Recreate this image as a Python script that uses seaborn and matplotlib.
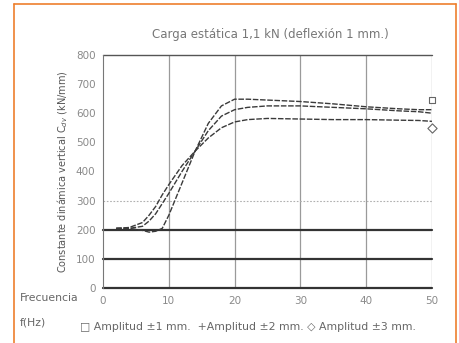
import numpy as np
import pandas as pd
import matplotlib
matplotlib.use("Agg")
import matplotlib.pyplot as plt
import seaborn as sns
from matplotlib.lines import Line2D

# ---- data ----
freq = [2, 4, 6, 7, 8, 9, 10, 12, 14, 16, 18, 20, 22, 25, 30, 35, 40, 45, 48, 50]
amp1 = [205, 205, 198, 192, 195, 205, 250, 360, 470, 565, 625, 648, 648, 645, 640, 632, 622, 615, 612, 612]
amp2 = [205, 205, 212, 230, 255, 290, 325, 400, 470, 540, 590, 612, 620, 625, 625, 620, 615, 608, 605, 600]
amp3 = [205, 208, 225, 250, 280, 320, 355, 420, 470, 515, 550, 570, 578, 582, 580, 578, 578, 576, 575, 572]
series = ["Amplitud ±1 mm.", "Amplitud ±2 mm.", "Amplitud ±3 mm."]
end_square = 645
end_diamond = 550
x_ticks = [0, 10, 20, 30, 40, 50]
y_ticks = [0, 100, 200, 300, 400, 500, 600, 700, 800]

df = pd.DataFrame({
    "f": freq * 3,
    "C": amp1 + amp2 + amp3,
    "serie": [series[0]] * len(freq) + [series[1]] * len(freq) + [series[2]] * len(freq),
})

sns.set_style("white")
plt.rcParams["font.family"] = ["DejaVu Sans"]

fig = plt.figure(figsize=(4.6, 3.43), dpi=100)
ax = fig.add_axes([0.224, 0.160, 0.715, 0.680])

grey = "#8a8a8a"
# grid
for xv in x_ticks[1:]:
    ax.axvline(xv, color="#9a9a9a", lw=0.9, zorder=1)
ax.axhline(800, color="#555555", lw=1.0, zorder=1, clip_on=False)
ax.axhline(300, color="#b0b0b0", lw=0.8, ls=(0, (1.5, 1.5)), zorder=1)
for yv in [0, 100, 200]:
    ax.axhline(yv, color="#333333", lw=1.6, zorder=1, clip_on=False)

sns.lineplot(data=df, x="f", y="C", hue="serie",
             palette=["#3a3a3a", "#3a3a3a", "#3a3a3a"],
             legend=False, ax=ax, lw=1.0, zorder=3)
for l in ax.lines[-3:]:
    l.set_linestyle((0, (4, 1.2)))

ax.scatter([50], [end_square], marker="s", s=22, facecolor="white",
           edgecolor="#666666", lw=0.8, zorder=4, clip_on=False)
ax.scatter([50], [end_diamond], marker="D", s=22, facecolor="white",
           edgecolor="#666666", lw=0.8, zorder=4, clip_on=False)

ax.set_xlim(0, 50)
ax.set_ylim(0, 800)
ax.set_xticks(x_ticks)
ax.set_yticks(y_ticks)
ax.set_xticklabels([str(v) for v in x_ticks], fontsize=7.5, color=grey)
ax.set_yticklabels([str(v) for v in y_ticks], fontsize=7.5, color=grey)
ax.tick_params(axis="both", width=0.8, color="#777777", pad=3)
ax.tick_params(axis="y", direction="inout", length=5)
ax.tick_params(axis="x", direction="inout", length=5)
for s in ["top", "right"]:
    ax.spines[s].set_visible(False)
ax.spines["left"].set_color("#777777")
ax.spines["bottom"].set_visible(False)
ax.set_xlabel("")
ax.set_ylabel("Constante dinámica vertical C$_{dv}$ (kN/mm)", fontsize=7, color="#555555", labelpad=4)

fig.text(0.587, 0.898, "Carga estática 1,1 kN (deflexión 1 mm.)", ha="center", va="center",
         fontsize=8.5, color="#777777")
fig.text(0.043, 0.131, "Frecuencia", ha="left", va="center", fontsize=7.8, color="#666666")
fig.text(0.043, 0.061, "f(Hz)", ha="left", va="center", fontsize=7.8, color="#666666")
fig.text(0.174, 0.048, "□ Amplitud ±1 mm.  +Amplitud ±2 mm. ◇ Amplitud ±3 mm.",
         ha="left", va="center", fontsize=7.8, color="#666666")

# orange frame
orange = "#ee7f2d"
fig.add_artist(Line2D([0.031, 0.031], [0.0, 0.988], transform=fig.transFigure, color=orange, lw=1.2))
fig.add_artist(Line2D([0.031, 0.991], [0.988, 0.988], transform=fig.transFigure, color=orange, lw=1.2))
fig.add_artist(Line2D([0.991, 0.991], [0.0, 0.988], transform=fig.transFigure, color=orange, lw=1.2))

fig.savefig("out.png", dpi=100)
